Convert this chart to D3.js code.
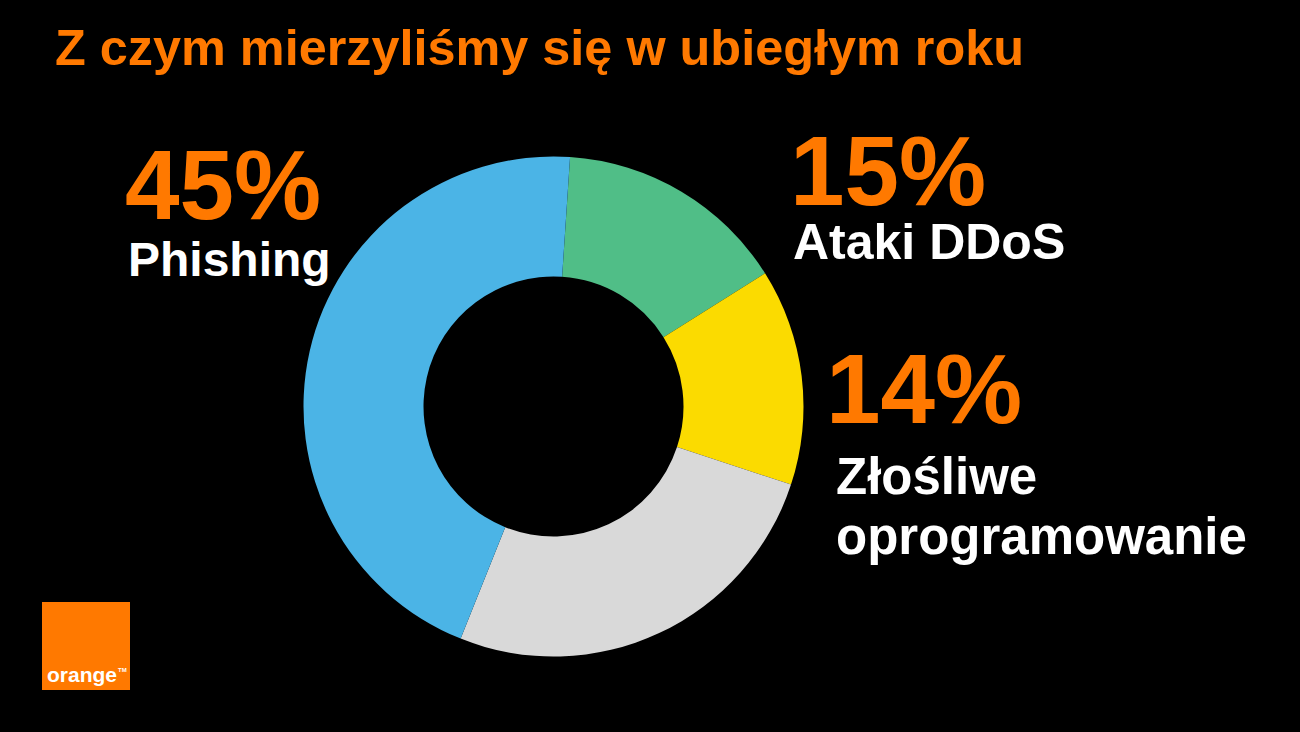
<!doctype html>
<html>
  <head>
    <meta charset="utf-8">
    <script src="https://d3js.org/d3.v7.min.js"></script>
    <style>
      html, body { margin: 0; padding: 0; background: #000; }
      svg { display: block; font-family: "Liberation Sans", Arial, Helvetica, sans-serif; font-weight: bold; }
    </style>
  </head>

  <body>
    <svg class="chart" width=1300 height=732></svg>

    <script>
      // slices, clockwise from just past 12 o'clock
      var categories = ["Ataki DDoS", "Złośliwe oprogramowanie", "Pozostałe", "Phishing"];
      var values = [15, 14, 26, 45];
      var colors = ["#50be87", "#fbdb00", "#d9d9d9", "#4bb4e6"];
      // which slices get a big label, and how the label text is split into lines
      var labelLines = [["Ataki DDoS"], ["Złośliwe", "oprogramowanie"], null, ["Phishing"]];
      var title = "Z czym mierzyliśmy się w ubiegłym roku";

      var svg = d3.select("svg"),
        cx = 553.5,
        cy = 406.5,
        outerR = 250,
        innerR = 130,
        a0 = 3.8 * Math.PI / 180;

      svg.append("rect").attr("width", 1300).attr("height", 732).attr("fill", "#000");

      svg.append("text")
        .attr("x", 55).attr("y", 65)
        .attr("fill", "#ff7900")
        .style("font-size", "50.4px")
        .text(title);

      var pie = d3.pie().sort(null).startAngle(a0).endAngle(a0 + 2 * Math.PI);
      var arc = d3.arc().innerRadius(innerR).outerRadius(outerR);

      var g = svg.append("g").attr("transform", "translate(" + cx + "," + cy + ")");
      g.selectAll("path")
        .data(pie(values))
        .enter().append("path")
        .attr("d", arc)
        .attr("fill", function(d, i) { return colors[i]; });

      // label anchors: percent position, name position, name size
      var labelPos = [
        { x: 790, y: 205, nx: 793, ny: 259, fs: 50 },
        { x: 826, y: 423, nx: 836, ny: 494, fs: 51 },
        null,
        { x: 125, y: 219, nx: 128, ny: 276, fs: 48 }
      ];
      var lineGap = 60;

      labelPos.forEach(function(p, i) {
        if (!p) return;
        svg.append("text")
          .attr("x", p.x).attr("y", p.y)
          .attr("fill", "#ff7900")
          .style("font-size", "98px")
          .text(values[i] + "%");
        labelLines[i].forEach(function(line, j) {
          svg.append("text")
            .attr("x", p.nx).attr("y", p.ny + j * lineGap)
            .attr("fill", "#fff")
            .style("font-size", p.fs + "px")
            .text(line);
        });
      });

      // orange logo
      var logo = svg.append("g").attr("transform", "translate(42,602)");
      logo.append("rect").attr("width", 88).attr("height", 88).attr("fill", "#ff7900");
      logo.append("text")
        .attr("x", 5).attr("y", 80)
        .attr("fill", "#fff")
        .style("font-size", "21px")
        .text("orange");
      logo.append("text")
        .attr("x", 76).attr("y", 70)
        .attr("fill", "#fff")
        .style("font-size", "6px")
        .text("TM");
    </script>
  </body>
</html>
